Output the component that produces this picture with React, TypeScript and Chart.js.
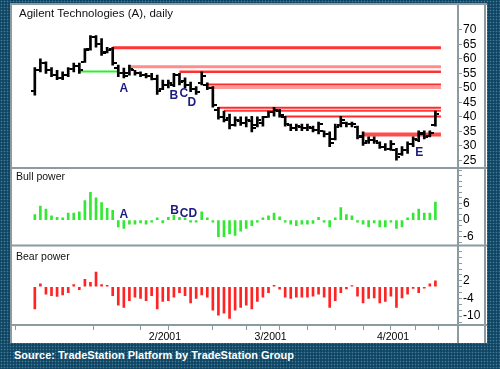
import React, { useEffect, useRef } from 'react';
import { Chart, registerables } from 'chart.js';

Chart.register(...registerables);

// ---- price bars (daily OHLC, Jan 2 .. Apr 17 2001, trading days) ----
const opens = [49,56,58.5,56,54.5,53.5,54.5,56.5,57.5,59,63.5,67.5,65,62.5,63.5,57,55,55,56,55,54.5,54,53,49.5,51,51,54.5,52.5,51,49.5,51.5,51,50,42.5,40,39.5,37,38.5,38,38.5,37,38,40,41.5,42,40,37,36,36.5,36,36,35.5,35,34,32.5,37,38,37.5,36.5,33.5,31.5,32,31,29.5,29,28.5,27,28.5,30.5,32,34,33.5,37];
const highs = [57,60,59,57,56,55.5,57,58.5,58.5,63.5,68,68,67,64,64,57.8,56.8,57.8,56,55.5,55,55,54.4,52.7,52.7,55,55,53.4,52,50.4,55.5,51.7,50.4,43.3,42,40.9,40,40,40,40.2,40,40.2,42,43.3,42.6,40.2,37.5,37.5,37.5,37.5,36.8,38.2,35.2,34.8,37.5,40.2,38.2,38.2,36.8,34.8,33.1,33.1,31.4,30.8,31.8,29.1,29.7,31.4,33.1,35.2,35.2,35.2,42];
const lows = [47.5,55.5,55,53.8,52.8,52.8,53.8,55.5,55,58.8,63,64,61.2,62,57.8,53.8,53.4,54.4,54.4,53.8,53.4,52.7,47.7,49.4,50,50.4,51,50,48.7,47.7,51,49.4,43.3,39.2,38.2,35.8,36.8,37,36.5,34.8,36.5,36.8,39.8,40.2,39.9,36.8,35.2,35.2,35.2,35.2,34.8,34.1,33.1,29.7,32,36.5,36.5,36.5,32.4,30.1,30.8,30.8,29.1,28.4,28.4,25,26.7,27.4,29.7,31.4,32.4,33.1,36.8];
const closes = [56,58.5,56,54.5,53.5,54.5,56.5,57.5,56,63,67.5,65,62,63,58.5,55,54,56.5,55,54.5,54,53,49,51,51.5,54.5,52,51,49.5,48.5,54,50,44,40,39,37,39,38,39,36,39,40,41.5,42.5,40.5,37.5,36,36.8,36,36.5,35.5,37.5,34,31,36.5,39,37.5,37.5,33,31,32,31.5,29.5,29,30.5,26,28.5,30.5,32.5,34.5,33,34.5,41];

// ---- indicators ----
const bullPower = [2,5,4,1.5,1,0.8,2.5,2.5,3,7,10,8,6.3,4.2,3.5,-2.5,-3,-1.5,-1.5,-1,-1.5,-0.8,0.8,-1,1,1.8,1,0.8,-0.8,-0.8,3,0.8,-0.8,-6,-6,-5,-5.5,-4,-3,-2,-0.8,0.8,1.5,2.5,1.2,-0.8,-1.5,-2,-1.5,-1.5,-1.2,1,-0.8,-2.5,0.8,4.5,2,1.5,-0.8,-1.5,-2.5,-1,-2.5,-2.5,-0.8,-3,-2.5,0.8,2.5,4,2.5,2.5,6.5];
const bearPower = [-7.5,1,-2.5,-3,-3.3,-2.8,-2,0.7,-1,2.5,1.5,5,0.7,0.5,-3,-6.3,-7,-4.7,-3.5,-4,-4.7,-3,-7.5,-5,-4.7,-3.5,-2,-3,-5.5,-4,-2.8,-3.5,-8,-9.7,-9,-10.8,-8,-7,-6.3,-7.5,-5,-3.5,-2,0.5,-0.8,-3.5,-4,-3.5,-3.5,-3.5,-3.2,-2.5,-3.5,-7,-4.7,-2,-0.7,0.4,-3.2,-5.5,-4,-3.8,-5.5,-5,-3.2,-7,-3.8,-2.5,-0.6,-2,-0.5,1,2];

// ---- axis ticks ----
const priceTicks = [25, 30, 35, 40, 45, 50, 55, 60, 65, 70];
const bullTicks = [-8,-6,-4,-2,0,2,4,6,8,10,12,14,16,18];
const bullTickLabels = [6, 0, -6];
const bearTicks = [-12,-10,-8,-6,-4,-2,0,2,4,6,8,10,12,14];
const bearTickLabels = [2, -4, -10];
const monthTickPos = [20.5, 39.5, 61.5];
const monthTickLabels = ['2/2001', '3/2001', '4/2001'];
const weekTickPos = [3.5, 17.5, 27.5, 36.5, 41.5, 46.5, 51.5, 56.5, 66.5, 70.5];

// ---- horizontal support / resistance lines ----
const resistanceStarts = [14, 17, 26, 31, 31, 33, 34, 45, 59];
const resistanceLevels = [63.8, 57.3, 55.5, 51.1, 50.1, 43.1, 42.1, 40.1, 33.9];
const supportStart = 8;
const supportEnd = 15;
const supportLevel = 55.6;

// ---- letter markers ----
const priceMarkLabels = ['A', 'B', 'C', 'D', 'E'];
const priceMarkX = [16, 25, 26.8, 28.2, 69.1];
const priceMarkY = [49.6, 47.4, 47.8, 45.0, 27.7];
const bullMarkLabels = ['A', 'B', 'CD'];
const bullMarkX = [16, 25.1, 27.6];
const bullMarkY = [1.9, 3.5, 2.3];

const resistanceColors = ['#ff3434', '#ff8c8c', '#ff3030', '#ff2a2a', '#ff9a9a', '#ff2a2a', '#ff3a3a', '#ff2a2a', '#ff4c4c'];
const resistanceWidths = [3, 3, 2.5, 2, 3, 2, 2, 2, 4];
const GRAY = '#8c9aa2';

function tickImage(side: 'left' | 'right') {
  const c = document.createElement('canvas');
  c.width = 8;
  c.height = 2;
  const g = c.getContext('2d')!;
  g.fillStyle = '#000';
  if (side === 'left') g.fillRect(0, 0, 3, 2);
  else g.fillRect(5, 0, 3, 2);
  return c;
}

const overlayPlugin = {
  id: 'overlay',
  afterDatasetsDraw(chart: any) {
    const { ctx, scales } = chart;
    ctx.save();
    ctx.fillStyle = '#1b1b80';
    ctx.font = 'bold 12px "Liberation Sans"';
    ctx.textAlign = 'center';
    ctx.textBaseline = 'middle';
    priceMarkLabels.forEach((l, k) => {
      ctx.fillText(l, scales.x.getPixelForValue(priceMarkX[k]), scales.y.getPixelForValue(priceMarkY[k]));
    });
    bullMarkLabels.forEach((l, k) => {
      ctx.fillText(l, scales.x.getPixelForValue(bullMarkX[k]), scales.yBull.getPixelForValue(bullMarkY[k]));
    });
    ctx.restore();
  },
  afterDraw(chart: any) {
    const { ctx, scales, width, height, chartArea } = chart;
    ctx.save();
    ctx.strokeStyle = GRAY;
    ctx.lineWidth = 2;
    const hl = (y: number) => { ctx.beginPath(); ctx.moveTo(0, y); ctx.lineTo(width, y); ctx.stroke(); };
    const vl = (x: number, y0: number, y1: number) => { ctx.beginPath(); ctx.moveTo(x, y0); ctx.lineTo(x, y1); ctx.stroke(); };
    hl(scales.yBull.top);
    hl(scales.yBear.top);
    hl(chartArea.bottom);
    hl(1);
    vl(1, 0, height);
    vl(width - 2, 0, height);
    vl(chartArea.right, 0, height);
    ctx.fillStyle = '#111';
    ctx.textAlign = 'left';
    ctx.textBaseline = 'middle';
    ctx.font = '11.5px "Liberation Sans"';
    ctx.fillText('Agilent Technologies (A), daily', 9, 11);
    ctx.font = '10.5px "Liberation Sans"';
    ctx.fillText('Bull power', 6, scales.yBull.top + 9.5);
    ctx.fillText('Bear power', 6, scales.yBear.top + 12);
    ctx.restore();
  },
};

export default function App() {
  const ref = useRef<HTMLCanvasElement>(null);

  useEffect(() => {
    document.body.style.margin = '0';
    const canvas = ref.current!;
    const idx = opens.map((_, i) => i);
    const openImg = tickImage('left');
    const closeImg = tickImage('right');

    const levelLines: any[] = resistanceLevels.map((lv, k) => ({
      type: 'line',
      data: [{ x: resistanceStarts[k], y: lv }, { x: 73, y: lv }],
      borderColor: resistanceColors[k],
      borderWidth: resistanceWidths[k],
      pointRadius: 0,
      yAxisID: 'y',
      order: 10,
    }));
    levelLines.push({
      type: 'line',
      data: [{ x: supportStart, y: supportLevel }, { x: supportEnd, y: supportLevel }],
      borderColor: '#2cf02c',
      borderWidth: 2,
      pointRadius: 0,
      yAxisID: 'y',
      order: 10,
    });

    const tickFont = { family: '"Liberation Sans"', size: 12 };
    const yCommon = {
      position: 'right' as const,
      stack: 'panes',
      grid: { drawOnChartArea: false, drawTicks: true, tickLength: 4, color: GRAY },
      border: { display: true, color: GRAY, width: 2 },
      afterFit: (s: any) => { s.width = 29; },
    };

    const chart = new Chart(canvas, {
      type: 'bar',
      data: {
        datasets: [
          ...levelLines,
          {
            type: 'bar',
            data: idx.map((i) => ({ x: i, y: [lows[i], highs[i]] })),
            backgroundColor: '#000',
            barThickness: 2,
            grouped: false,
            yAxisID: 'y',
            order: 2,
          },
          {
            type: 'line',
            data: idx.map((i) => ({ x: i, y: opens[i] })),
            showLine: false,
            pointStyle: openImg,
            pointRadius: 3,
            yAxisID: 'y',
            order: 1,
          },
          {
            type: 'line',
            data: idx.map((i) => ({ x: i, y: closes[i] })),
            showLine: false,
            pointStyle: closeImg,
            pointRadius: 3,
            yAxisID: 'y',
            order: 1,
          },
          {
            type: 'bar',
            data: idx.map((i) => ({ x: i, y: bullPower[i] })),
            backgroundColor: '#33e833',
            barThickness: 2,
            grouped: false,
            yAxisID: 'yBull',
            order: 2,
          },
          {
            type: 'bar',
            data: idx.map((i) => ({ x: i, y: bearPower[i] })),
            backgroundColor: '#ff2424',
            barThickness: 2,
            grouped: false,
            yAxisID: 'yBear',
            order: 2,
          },
        ] as any,
      },
      options: {
        animation: false,
        responsive: false,
        events: [],
        layout: { padding: { left: 1, top: 2, right: 0, bottom: 0 } },
        plugins: { legend: { display: false }, tooltip: { enabled: false } },
        scales: {
          x: {
            type: 'linear',
            position: 'bottom',
            min: -0.5,
            max: 73,
            grid: { drawOnChartArea: false, drawTicks: true, tickLength: 5, color: GRAY },
            border: { display: true, color: GRAY, width: 2 },
            afterBuildTicks: (s: any) => {
              s.ticks = [...weekTickPos, ...monthTickPos].sort((a, b) => a - b).map((v) => ({ value: v }));
            },
            afterFit: (s: any) => { s.height = 18; },
            ticks: {
              autoSkip: false,
              maxRotation: 0,
              align: 'start',
              padding: 1,
              color: '#000',
              font: { family: '"Liberation Sans"', size: 10.5 },
              callback: (v: any) => {
                const k = monthTickPos.indexOf(Number(v));
                return k >= 0 ? monthTickLabels[k] : '';
              },
            },
          },
          y: {
            ...yCommon,
            stackWeight: 160,
            min: 22.3,
            max: 76.43,
            afterBuildTicks: (s: any) => { s.ticks = priceTicks.map((v) => ({ value: v })); },
            ticks: { autoSkip: false, color: '#000', padding: 1, font: tickFont, callback: (v: any) => String(v) },
          },
          yBull: {
            ...yCommon,
            stackWeight: 79,
            min: -9.19,
            max: 18.73,
            afterBuildTicks: (s: any) => { s.ticks = bullTicks.map((v) => ({ value: v })); },
            ticks: {
              autoSkip: false, color: '#000', padding: 1, font: tickFont,
              callback: (v: any) => (bullTickLabels.includes(Number(v)) ? String(v) : ''),
            },
          },
          yBear: {
            ...yCommon,
            stackWeight: 81,
            min: -13,
            max: 14,
            afterBuildTicks: (s: any) => { s.ticks = bearTicks.map((v) => ({ value: v })); },
            ticks: {
              autoSkip: false, color: '#000', padding: 1, font: tickFont,
              callback: (v: any) => (bearTickLabels.includes(Number(v)) ? String(v) : ''),
            },
          },
        } as any,
      },
      plugins: [overlayPlugin],
    });
    return () => chart.destroy();
  }, []);

  return (
    <div
      style={{
        position: 'relative',
        width: 500,
        height: 369,
        overflow: 'hidden',
        backgroundColor: '#0d4562',
        backgroundImage: 'radial-gradient(circle, rgba(120,165,195,0.55) 0.7px, transparent 1.1px)',
        backgroundSize: '3px 3px',
      }}
    >
      <canvas
        ref={ref}
        width={477}
        height={340}
        style={{ position: 'absolute', left: 10, top: 3, width: 477, height: 340, background: '#fff' }}
      />
      <div
        style={{
          position: 'absolute',
          left: 14,
          top: 349,
          color: '#fff',
          font: 'bold 11px "Liberation Sans"',
          whiteSpace: 'nowrap',
        }}
      >
        Source: TradeStation Platform by TradeStation Group
      </div>
    </div>
  );
}
